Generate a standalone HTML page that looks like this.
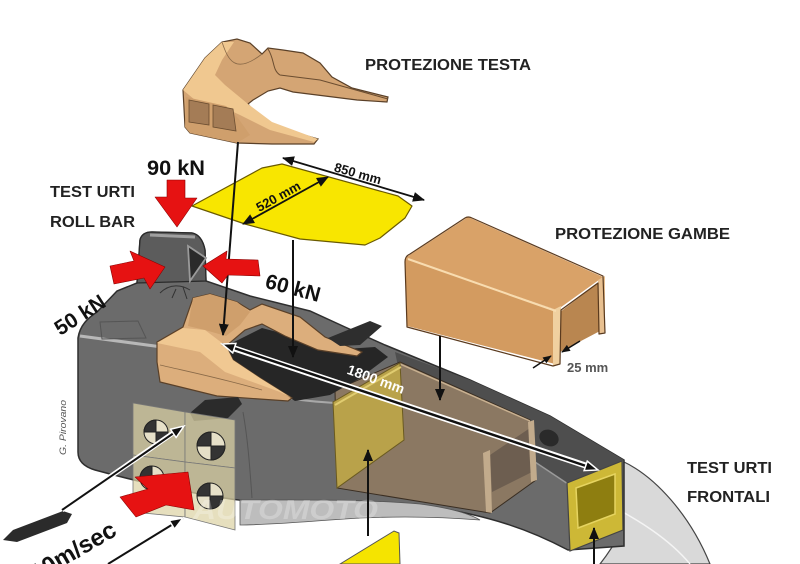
<!DOCTYPE html>
<html><head><meta charset="utf-8">
<style>
html,body{margin:0;padding:0;background:#fff;}
svg{display:block;}
text{font-family:"Liberation Sans",Arial,sans-serif;font-weight:bold;}
</style></head><body>
<svg width="800" height="564" viewBox="0 0 800 564" xmlns="http://www.w3.org/2000/svg">
<defs>
<marker id="ah" viewBox="0 0 12 10" refX="11" refY="5" markerWidth="12" markerHeight="10" markerUnits="userSpaceOnUse" orient="auto-start-reverse"><path d="M0,0 L12,5 L0,10 Z" fill="#111"/></marker>
<marker id="ahs" viewBox="0 0 10 8" refX="9" refY="4" markerWidth="9" markerHeight="7" markerUnits="userSpaceOnUse" orient="auto-start-reverse"><path d="M0,0 L10,4 L0,8 Z" fill="#111"/></marker>
<marker id="ahw" viewBox="0 0 16 12" refX="14" refY="6" markerWidth="16" markerHeight="12" markerUnits="userSpaceOnUse" orient="auto-start-reverse"><path d="M1,1 L14,6 L1,11 Z" fill="#111" stroke="#fff" stroke-width="1.5"/></marker>
</defs>
<rect width="800" height="564" fill="#fff"/>

<!-- nose light underside -->
<path d="M622,461 C655,476 690,515 710,564 L600,564 L606,556 L623,531 Z" fill="#d9d9d9" stroke="#444" stroke-width="1.2"/>
<path d="M600,500 C640,520 670,540 690,564" fill="none" stroke="#f4f4f4" stroke-width="1.5"/>

<!-- main body -->
<path d="M78,338 C80,325 88,318 97,312 L117,291 L137,283 L140,240 Q142,232 152,232 L192,233 Q202,235 205,250 L206,281 L250,296 L310,311 L345,327 L385,345 L470,380 L550,416 L624,460 L624,546 L568,550 C530,530 490,515 420,505 C360,500 300,502 245,501 C200,495 150,485 95,470 Q78,465 78,452 Z" fill="#6b6b6b" stroke="#2e2e2e" stroke-width="1.5"/>
<!-- floor light band -->
<path d="M240,500 C300,500 360,499 420,504 C450,508 470,514 480,520 C430,516 380,516 330,520 C290,523 260,525 240,525 Z" fill="#bdbdbd" stroke="#555" stroke-width="0.8"/>
<!-- body highlights -->
<path d="M80,336 C110,340 140,344 162,347" fill="none" stroke="#b8b8b8" stroke-width="3"/>
<path d="M288,398 C310,402 325,402 336,403" fill="none" stroke="#a8a8a8" stroke-width="2"/>
<path d="M100,322 L138,321 L146,338 L102,339 Z" fill="none" stroke="#555" stroke-width="1"/>
<path d="M243,412 C248,440 250,470 252,498" fill="none" stroke="#555" stroke-width="1"/>

<!-- nose top face -->
<path d="M395,352 L470,380 L550,416 L624,460 L568,484 L535,462 L470,428 L405,400 Z" fill="#4e4e4e"/>
<path d="M405,400 L470,428 L535,462 L568,484" fill="none" stroke="#9a9a9a" stroke-width="1.5"/>
<ellipse cx="549" cy="438" rx="10" ry="8" fill="#2a2a2a" transform="rotate(25 549 438)"/>

<!-- roll bar -->
<path d="M137,283 L140,240 Q142,232 152,232 L192,233 Q202,235 205,250 L206,281 Z" fill="#5c5c5c" stroke="#2a2a2a" stroke-width="1.3"/>
<path d="M150,235 L195,237" stroke="#a0a0a0" stroke-width="3"/>
<path d="M188,246 L206,258 L190,281 Z" fill="#2a2a2a" stroke="#9a9a9a" stroke-width="1.8"/>
<path d="M160,293 C170,283 182,285 190,290 M183,287 L187,299 M176,289 L172,298" fill="none" stroke="#333" stroke-width="1"/>

<!-- brown translucent box -->
<path d="M335,390 L400,362 L530,420 L536,480 L490,513 L337,488 Z" fill="#8b7862" stroke="#3a2e22" stroke-width="1"/>
<path d="M490,455 L530,428 L532,472 L492,492 Z" fill="#6d5e50"/>
<path d="M483,453 L490,450 L492,513 L486,512 Z" fill="#c2ab8c"/>
<path d="M528,422 L534,420 L537,480 L531,482 Z" fill="#c2ab8c"/>
<path d="M400,364 L530,421" stroke="#c8b090" stroke-width="1.5"/>
<!-- yellow translucent box -->
<path d="M333,402 L400,363 L404,440 L337,488 Z" fill="#b9a24a" stroke="#6a5a20" stroke-width="1"/>
<path d="M335,405 L401,367" stroke="#e0cc70" stroke-width="2"/>

<!-- nose yellow square -->
<path d="M567,483 L622,461 L623,530 L570,551 Z" fill="#cdb836" stroke="#444" stroke-width="1.2"/>
<path d="M576,488 L615,474 L615,514 L578,528 Z" fill="#8e7e10" stroke="#e6d460" stroke-width="1.5"/>

<!-- cockpit opening -->
<path d="M222,348 L262,328 L300,338 L330,350 L375,347 L388,357 L360,378 L330,395 L295,401 L260,380 L235,363 Z" fill="#262626"/>
<!-- seat -->
<path d="M157,342 L183,327 L193,298 L210,294 L237,302 L250,310 L262,304 L300,317 L325,337 L362,352 L357,356 L318,350 L285,336 L262,324 L245,330 L226,346 L233,360 L260,378 L292,398 L288,401 L217,396 L160,382 L157,362 Z" fill="#dcae7c" stroke="#5a4028" stroke-width="1.2"/>
<path d="M157,343 L183,328 L205,330 L226,346 L233,360 L260,378 L292,398 L280,392 L225,372 L200,352 Z" fill="#f0c892"/>
<path d="M193,298 L210,294 L237,302 L250,312 L240,325 L226,336 L205,330 L188,326 Z" fill="#cf9f6c"/>
<path d="M160,365 C190,372 220,378 262,390" fill="none" stroke="#8a6a48" stroke-width="0.8"/>

<!-- black fins -->
<path d="M328,338 L370,321 L382,326 L360,345 L340,346 Z" fill="#2e2e2e"/>
<path d="M190,413 L205,400 L238,397 L242,404 L228,418 L194,421 Z" fill="#2b2b2b"/>

<!-- crash panels -->
<g stroke="#777" stroke-width="0.8" fill="rgba(220,210,165,0.72)">
<path d="M133,403 L185,412 L185,462 L133,455 Z"/>
<path d="M185,412 L235,420 L235,468 L185,462 Z"/>
<path d="M133,455 L185,462 L185,517 L133,512 Z"/>
<path d="M185,462 L235,468 L235,530 L185,517 Z"/>
</g>
<g stroke="#222" stroke-width="1">
<circle cx="156" cy="432" r="12" fill="#e6e0c8"/>
<path d="M156,432 L156,420 A12,12 0 0 0 144,432 Z M156,432 L156,444 A12,12 0 0 0 168,432 Z" fill="#333"/>
<circle cx="211" cy="446" r="14" fill="#e6e0c8"/>
<path d="M211,446 L211,432 A14,14 0 0 0 197,446 Z M211,446 L211,460 A14,14 0 0 0 225,446 Z" fill="#333"/>
<circle cx="152" cy="478" r="12" fill="#e6e0c8"/>
<path d="M152,478 L152,466 A12,12 0 0 0 140,478 Z M152,478 L152,490 A12,12 0 0 0 164,478 Z" fill="#333"/>
<circle cx="210" cy="496" r="13" fill="#e6e0c8"/>
<path d="M210,496 L210,483 A13,13 0 0 0 197,496 Z M210,496 L210,509 A13,13 0 0 0 223,496 Z" fill="#333"/>
</g>

<!-- watermark -->
<text x="193" y="519" font-size="28" font-style="italic" fill="#fff" opacity="0.25" textLength="185" lengthAdjust="spacingAndGlyphs">AUTOMOTO</text>

<!-- head protection -->
<path d="M183,90 L205,58 L222,42 L237,39 L250,43 L262,54 L268,48 L283,50 L303,53 L320,63 L332,77 L352,88 L388,97 L387,102 L357,100 L317,95 L293,92 L280,88 L268,91 L253,100 L248,104 L256,114 L272,124 L297,133 L318,139 L314,144 L272,144 L237,143 L190,133 L185,127 Z" fill="#d4a574" stroke="#5a4028" stroke-width="1.2"/>
<path d="M183,90 L205,58 L222,42 L234,42 L222,60 L215,75 L225,85 L248,104 L272,122 L318,139 L314,142 L270,130 L240,115 L225,108 L195,100 Z" fill="#f0c890"/>
<path d="M186,97 L226,106 L238,118 L250,135 L237,143 L190,133 L185,127 Z" fill="#cf9f6c"/>
<path d="M189,100 L209,104 L209,125 L189,122 Z M213,105 L233,109 L236,131 L213,127 Z" fill="#a47c56" stroke="#6b4d30" stroke-width="0.8"/>
<path d="M268,49 C275,60 272,70 280,75 L320,80 L388,99" fill="none" stroke="#6b4d30" stroke-width="1"/>
<path d="M222,42 C228,60 235,75 262,54" fill="none" stroke="#8a6a48" stroke-width="0.8"/>

<!-- yellow panel -->
<path d="M192,206 L262,168 L282,164 L398,196 L412,206 L405,218 L380,238 L365,245 L300,239 L245,224 Z" fill="#f8e600" stroke="#6a5a00" stroke-width="1.2" stroke-linejoin="round"/>

<!-- gambe box -->
<path d="M405,258 L468,217 L603,277 L557,310 Z" fill="#d9a268"/>
<path d="M405,258 L557,310 L555,364 L407,326 Z" fill="#d39b60"/>
<path d="M560,312 L598,283 L600,331 L560,352 Z" fill="#b98650"/>
<path d="M553,310 L561,306 L560,364 L553,366 Z" fill="#f0d0a0"/>
<path d="M598,280 L605,276 L605,332 L599,334 Z" fill="#e8c090"/>
<path d="M405,262 Q405,256 410,254 L465,218 Q468,216 472,218 L603,276 L605,333 L599,334 L598,283 L561,310 L560,364 L553,366 L407,327 Z" fill="none" stroke="#5a3a1e" stroke-width="1.2" stroke-linejoin="round"/>
<path d="M408,259 L556,311" stroke="#f8dcb0" stroke-width="2"/>

<!-- black arrows -->
<g stroke="#111" stroke-width="2" fill="none">
<line x1="238" y1="142" x2="223" y2="335" marker-end="url(#ah)"/>
<line x1="293" y1="240" x2="293" y2="357" marker-end="url(#ah)"/>
<line x1="440" y1="336" x2="440" y2="400" marker-end="url(#ah)"/>
<line x1="283" y1="158" x2="424" y2="200" stroke-width="1.8" marker-start="url(#ah)" marker-end="url(#ah)"/>
<line x1="243" y1="224" x2="328" y2="177" stroke-width="1.8" marker-start="url(#ah)" marker-end="url(#ah)"/>
<line x1="533" y1="368" x2="551" y2="356" stroke-width="1.5" marker-end="url(#ahs)"/>
<line x1="580" y1="341" x2="562" y2="352" stroke-width="1.5" marker-end="url(#ahs)"/>
<line x1="368" y1="536" x2="368" y2="450" marker-end="url(#ah)"/>
<line x1="594" y1="564" x2="594" y2="528" marker-end="url(#ah)"/>
</g>
<!-- 1800 arrow with halo -->
<line x1="230" y1="347" x2="590" y2="467" stroke="#fff" stroke-width="6"/>
<line x1="222" y1="344" x2="598" y2="470" stroke="#111" stroke-width="2.5" marker-start="url(#ahw)" marker-end="url(#ahw)"/>
<!-- left long arrow -->
<path d="M3,540 L13,530 L63,511 L72,514 L67,523 L17,542 Z" fill="#2b2b2b"/>
<line x1="62" y1="510" x2="176" y2="431" stroke="#fff" stroke-width="5"/>
<line x1="62" y1="510" x2="184" y2="426" stroke="#111" stroke-width="2" marker-end="url(#ahw)"/>
<line x1="108" y1="564" x2="176" y2="522" stroke="#fff" stroke-width="5"/>
<line x1="108" y1="564" x2="183" y2="518" stroke="#111" stroke-width="2" marker-end="url(#ahw)"/>

<!-- yellow bottom shape -->
<path d="M340,564 L394,531 L399,533 L400,564 Z" fill="#f5e400" stroke="#555" stroke-width="1"/>

<!-- red arrows -->
<g fill="#e61212" stroke="#8a0000" stroke-width="0.6" stroke-linejoin="round">
<path d="M167,180 L185,180 L185,198 L197,198 L177,227 L155,197 L167,197 Z"/>
<path d="M110,266 L134,261 L130,251 L165,267 L150,289 L144,278 L114,284 Z"/>
<path d="M203,266 L227,251 L226,259 L258,260 L260,276 L228,275 L222,283 Z"/>
<path d="M188,472 L135,477 L148,489 L120,497 L136,517 L166,505 L194,510 Z"/>
</g>

<!-- texts -->
<text x="365" y="70" font-size="15.5" fill="#222" textLength="166" lengthAdjust="spacingAndGlyphs">PROTEZIONE TESTA</text>
<text x="555" y="239" font-size="15.5" fill="#222" textLength="175" lengthAdjust="spacingAndGlyphs">PROTEZIONE GAMBE</text>
<text x="50" y="197" font-size="16" fill="#222" textLength="85" lengthAdjust="spacingAndGlyphs">TEST URTI</text>
<text x="50" y="227" font-size="16" fill="#222" textLength="85" lengthAdjust="spacingAndGlyphs">ROLL BAR</text>
<text x="687" y="473" font-size="16" fill="#222" textLength="85" lengthAdjust="spacingAndGlyphs">TEST URTI</text>
<text x="687" y="502" font-size="16" fill="#222" textLength="83" lengthAdjust="spacingAndGlyphs">FRONTALI</text>
<text x="147" y="175" font-size="21" fill="#111" textLength="58" lengthAdjust="spacingAndGlyphs">90 kN</text>
<text x="293" y="295" font-size="21" fill="#111" text-anchor="middle" transform="rotate(15 293 288)">60 kN</text>
<text x="80" y="322" font-size="21" fill="#111" text-anchor="middle" transform="rotate(-33 80 315)">50 kN</text>
<text x="358" y="178" font-size="13" fill="#111" text-anchor="middle" transform="rotate(16 358 173)">850 mm</text>
<text x="278" y="201" font-size="13" fill="#111" text-anchor="middle" transform="rotate(-29 278 196)">520 mm</text>
<text x="376" y="384" font-size="14" fill="#fff" text-anchor="middle" transform="rotate(20 376 379)">1800 mm</text>
<text x="567" y="372" font-size="13" fill="#555">25 mm</text>
<text x="66" y="455" font-size="9" font-style="italic" fill="#555" style="font-weight:normal" transform="rotate(-90 66 455)" textLength="55" lengthAdjust="spacingAndGlyphs">G. Pirovano</text>
<text x="36" y="582" font-size="24" fill="#111" transform="rotate(-30 36 582)">10m/sec</text>
</svg>
</body></html>
